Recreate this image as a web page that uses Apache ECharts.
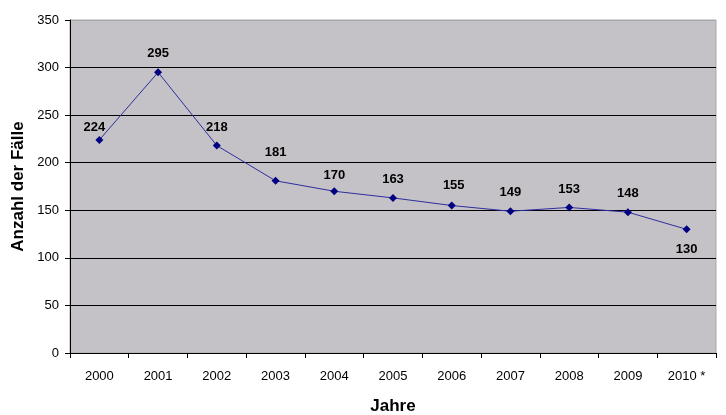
<!DOCTYPE html>
<html><head><meta charset="utf-8">
<script src="https://cdn.jsdelivr.net/npm/echarts@6/dist/echarts.min.js"></script>
<style>html,body{margin:0;padding:0;background:#fff}#c{width:726px;height:415px}</style>
</head><body><div id="c"></div>
<script>
const categories = ['2000','2001','2002','2003','2004','2005','2006','2007','2008','2009','2010 *'];
const values = [224, 295, 218, 181, 170, 163, 155, 149, 153, 148, 130];
const yTicks = {min: 0, max: 350, interval: 50};
const xTitle = 'Jahre';
const yTitle = 'Anzahl der Fälle';

// label placement tweaks (style only)
const labelTweaks = {0: [-5, 6], 3: [0, -10], 4: [0, 3], 6: [2, -2]};

const chart = echarts.init(document.getElementById('c'), null, {renderer: 'canvas'});
const font = 'Liberation Sans, Arial, sans-serif';
const nLines = (yTicks.max - yTicks.min) / yTicks.interval + 1;
const splitColors = [];
for (let i = 0; i < nLines; i++) splitColors.push(i === nLines - 1 ? '#A8A8A8' : '#000');
chart.setOption({
  animation: false,
  backgroundColor: '#fff',
  grid: {left: 70, right: 10, top: 20, bottom: 62, outerBoundsMode: 'none', containLabel: false,
         show: true, backgroundColor: '#C4C2C6', borderColor: '#A8A8A8', borderWidth: 1},
  xAxis: {
    type: 'category', data: categories, boundaryGap: true,
    name: xTitle, nameLocation: 'middle', nameGap: 45,
    nameTextStyle: {fontFamily: font, fontSize: 17, fontWeight: 'bold', color: '#000'},
    axisLine: {lineStyle: {color: '#000', width: 1}},
    axisTick: {show: true, length: 5, lineStyle: {color: '#000'}},
    axisLabel: {fontFamily: font, fontSize: 13, color: '#000', margin: 17},
    splitLine: {show: false}
  },
  yAxis: {
    type: 'value', min: yTicks.min, max: yTicks.max, interval: yTicks.interval,
    name: yTitle, nameLocation: 'middle', nameGap: 43, nameRotate: 90,
    nameTextStyle: {fontFamily: font, fontSize: 17, fontWeight: 'bold', color: '#000'},
    axisLine: {show: true, lineStyle: {color: '#000', width: 1}},
    axisTick: {show: true, length: 5, lineStyle: {color: '#000'}},
    axisLabel: {fontFamily: font, fontSize: 13, color: '#000', margin: 11},
    splitLine: {show: true, lineStyle: {color: splitColors, width: 1}}
  },
  series: [{
    type: 'line', data: values.map((v, i) => {
      const d = {value: v};
      if (i === values.length - 1) d.label = {position: 'bottom', distance: 10};
      else if (labelTweaks[i]) d.label = {offset: labelTweaks[i]};
      return d;
    }),
    symbol: 'diamond', symbolSize: 8,
    lineStyle: {color: '#2E2E9E', width: 1},
    itemStyle: {color: '#000080'},
    label: {show: true, position: 'top', distance: 8, fontFamily: font, fontSize: 13, fontWeight: 'bold', color: '#000'}
  }]
});
</script></body></html>
